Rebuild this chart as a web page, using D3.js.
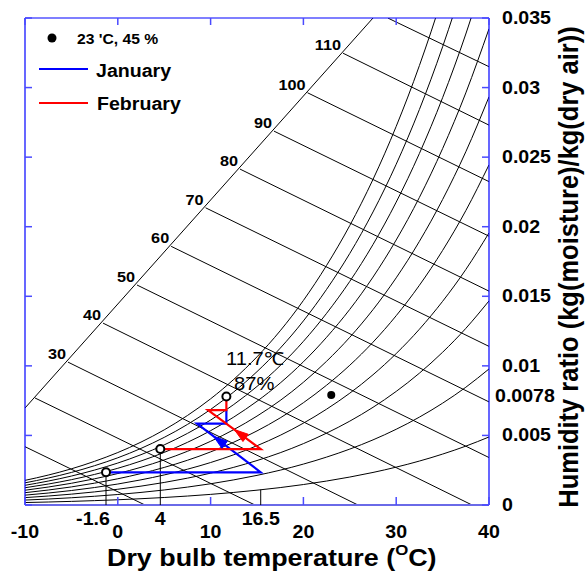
<!DOCTYPE html>
<html>
<head>
<meta charset="utf-8">
<script src="https://cdn.jsdelivr.net/npm/d3@7"></script>
<style>
  body { margin: 0; background: #fff; }
  text { font-family: "Liberation Sans", Arial, Helvetica, sans-serif; }
</style>
</head>
<body>
<svg id="chart" width="585" height="574"></svg>
<script>
// saturation humidity ratio (kg/kg)
const satT = [-10, -7.5, -5, -2.5, 0, 2.5, 5, 7.5, 10, 12.5, 15, 17.5, 20, 22.5, 25, 27.5, 30, 32.5, 35, 37.5, 40];
const satW = [0.00177, 0.00215, 0.00260, 0.00314, 0.00377, 0.00452, 0.00540, 0.00643, 0.00763, 0.00903, 0.01065,
  0.01252, 0.01470, 0.01722, 0.02009, 0.02340, 0.02721, 0.03158, 0.03659, 0.04231, 0.04889];
const rhLevels = [10, 20, 30, 40, 50, 60, 70, 80, 90, 100];

// enthalpy lines: start on the scale line (or left edge), end on bottom / right edge
const enthalpyValues = [10, 20, 30, 40, 50, 60, 70, 80, 90, 100, 110, 120];
const enthalpyStartT = [-10, -8.92, -5.37, -1.59, 2.07, 5.75, 9.46, 13.17, 16.83, 20.44, 24.27, 29.12];
const enthalpyStartW = [0.00419, 0.00769, 0.01027, 0.01307, 0.01581, 0.01859, 0.02136, 0.02414, 0.02687, 0.02963, 0.03247, 0.03499];
const enthalpyEndT = [2.93, 14.78, 25.88, 38.17, 40, 40, 40, 40, 40, 40, 40, 40];
const enthalpyEndW = [0, 0, 0, 0, 0.00341, 0.00741, 0.01140, 0.01537, 0.01932, 0.02324, 0.02730, 0.0315];
const enthalpyLabelled = [30, 40, 50, 60, 70, 80, 90, 100, 110];
const scaleLineT = [-10, 27.5];
const scaleLineW = [0.00697, 0.035];

// process paths
const janT = [-1.27, 15.4, 8.53, 11.7, 11.7];
const janW = [0.00235, 0.00235, 0.00585, 0.00585, 0.00682];
const febT = [4.58, 15.4, 9.72, 11.7, 11.7];
const febW = [0.00402, 0.00402, 0.00682, 0.00682, 0.0078];
const stateT = [-1.27, 4.58, 11.7];
const stateW = [0.00235, 0.00402, 0.0078];
const roomPoint = [23, 0.0079];

const xTicks = [-10, 0, 10, 20, 30, 40];
const yTicks = [0, 0.005, 0.01, 0.015, 0.02, 0.025, 0.03, 0.035];

const svg = d3.select("#chart");
const x = d3.scaleLinear().domain([-10, 40]).range([25, 489]);
const y = d3.scaleLinear().domain([0, 0.035]).range([505, 18]);
const SX = 1.12; // the original text is slightly stretched sideways

function label(parent, px, py, str, size, anchor, weight) {
  return parent.append("text")
    .attr("transform", `translate(${px},${py}) scale(${SX},1)`)
    .attr("text-anchor", anchor || "start")
    .attr("font-size", size)
    .attr("font-weight", weight || "bold")
    .attr("fill", "#000")
    .text(str);
}

svg.append("clipPath").attr("id", "plotClip")
  .append("rect").attr("x", x(-10)).attr("y", y(0.035))
  .attr("width", x(40) - x(-10)).attr("height", y(0) - y(0.035));

const plot = svg.append("g").attr("clip-path", "url(#plotClip)");
const straight = d3.line().x(d => x(d[0])).y(d => y(d[1]));
const smooth = d3.line().x(d => x(d[0])).y(d => y(d[1])).curve(d3.curveMonotoneX);

// relative humidity curves
rhLevels.forEach(rh => {
  plot.append("path")
    .datum(satT.map((t, i) => [t, satW[i] * rh / 100]))
    .attr("d", smooth)
    .attr("fill", "none").attr("stroke", "#000").attr("stroke-width", 1);
});

// enthalpy scale line and enthalpy lines
plot.append("path")
  .datum(scaleLineT.map((t, i) => [t, scaleLineW[i]]))
  .attr("d", straight)
  .attr("fill", "none").attr("stroke", "#000").attr("stroke-width", 1);

enthalpyValues.forEach((h, i) => {
  plot.append("path")
    .datum([[enthalpyStartT[i], enthalpyStartW[i]], [enthalpyEndT[i], enthalpyEndW[i]]])
    .attr("d", straight)
    .attr("fill", "none").attr("stroke", "#000").attr("stroke-width", 1);
});

enthalpyLabelled.forEach(h => {
  const i = enthalpyValues.indexOf(h);
  label(svg, x(enthalpyStartT[i]) - 2, y(enthalpyStartW[i]) - 3, h, 14.5, "end");
});

// frame and ticks
const frame = svg.append("g");
frame.append("line").attr("x1", x(-10)).attr("x2", x(40)).attr("y1", y(0.035)).attr("y2", y(0.035))
  .attr("stroke", "#0000ff").attr("stroke-width", 1.2);
frame.append("line").attr("x1", x(-10)).attr("x2", x(-10)).attr("y1", y(0)).attr("y2", y(0.035))
  .attr("stroke", "#0000ff").attr("stroke-width", 1.2);
frame.append("line").attr("x1", x(40)).attr("x2", x(40)).attr("y1", y(0)).attr("y2", y(0.035))
  .attr("stroke", "#0000ff").attr("stroke-width", 1.2);
frame.append("line").attr("x1", x(-10)).attr("x2", x(40)).attr("y1", y(0)).attr("y2", y(0))
  .attr("stroke", "#6a6ae8").attr("stroke-width", 2);

xTicks.forEach(t => {
  frame.append("line").attr("x1", x(t)).attr("x2", x(t)).attr("y1", y(0)).attr("y2", y(0) - 8)
    .attr("stroke", "#4a4aff").attr("stroke-width", 1.5);
  frame.append("line").attr("x1", x(t)).attr("x2", x(t)).attr("y1", y(0.035)).attr("y2", y(0.035) + 7)
    .attr("stroke", "#4a4aff").attr("stroke-width", 1.5);
  label(svg, x(t), 538, t, 17.5, "middle");
});

yTicks.forEach(w => {
  frame.append("line").attr("x1", x(-10)).attr("x2", x(-10) + 7).attr("y1", y(w)).attr("y2", y(w))
    .attr("stroke", "#4a4aff").attr("stroke-width", 1.5);
  frame.append("line").attr("x1", x(40)).attr("x2", x(40) - 7).attr("y1", y(w)).attr("y2", y(w))
    .attr("stroke", "#4a4aff").attr("stroke-width", 1.5);
  label(svg, 502, y(w) + 6, w, 17.5, "start");
});
label(svg, 495, y(0.0078) + 6, "0.0078", 17.5, "start");

// special temperature labels
label(svg, 93, 525, "-1.6", 17.5, "middle");
label(svg, x(stateT[1]), 525, "4", 17.5, "middle");
label(svg, x(15.4), 525, "16.5", 17.5, "middle");

// axis titles
const xt = svg.append("text")
  .attr("transform", `translate(107,566) scale(${SX},1)`)
  .attr("font-size", 24).attr("font-weight", "bold");
xt.append("tspan").text("Dry bulb temperature (");
xt.append("tspan").attr("font-size", 15).attr("dy", -11).text("O");
xt.append("tspan").attr("dy", 11).text("C)");

svg.append("text")
  .attr("transform", `translate(578,267) rotate(-90) scale(1,${SX})`)
  .attr("text-anchor", "middle")
  .attr("font-size", 25.5).attr("font-weight", "bold")
  .text("Humidity ratio (kg(moisture)/kg(dry air))");

// drop lines
const marks = svg.append("g");
[0, 1].forEach(i => {
  marks.append("line").attr("x1", x(stateT[i])).attr("x2", x(stateT[i]))
    .attr("y1", y(stateW[i])).attr("y2", y(0))
    .attr("stroke", "#000").attr("stroke-width", 1);
});
marks.append("line").attr("x1", x(15.4)).attr("x2", x(15.4))
  .attr("y1", y(0.0011)).attr("y2", y(0))
  .attr("stroke", "#000").attr("stroke-width", 1);

// process paths with arrows
function arrowOnSegment(p0, p1, frac, color) {
  const a = [x(p0[0]), y(p0[1])], b = [x(p1[0]), y(p1[1])];
  const dx = b[0] - a[0], dy = b[1] - a[1];
  const len = Math.hypot(dx, dy), ux = dx / len, uy = dy / len;
  const tip = [a[0] + dx * frac, a[1] + dy * frac];
  const base = [tip[0] - ux * 14, tip[1] - uy * 14];
  const w = 4.5;
  marks.append("path")
    .attr("d", `M${tip[0]},${tip[1]}L${base[0] - uy * w},${base[1] + ux * w}L${base[0] + uy * w},${base[1] - ux * w}Z`)
    .attr("fill", color).attr("stroke", color).attr("stroke-width", 1);
}

const janPts = janT.map((t, i) => [t, janW[i]]);
const febPts = febT.map((t, i) => [t, febW[i]]);
marks.append("path").datum(janPts).attr("d", straight)
  .attr("fill", "none").attr("stroke", "#0000ff").attr("stroke-width", 2.2);
marks.append("path").datum(febPts).attr("d", straight)
  .attr("fill", "none").attr("stroke", "#ff0000").attr("stroke-width", 2.2);
arrowOnSegment(janPts[1], janPts[2], 0.74, "#0000ff");
arrowOnSegment(febPts[1], febPts[2], 0.5, "#ff0000");

stateT.forEach((t, i) => {
  marks.append("circle").attr("cx", x(t)).attr("cy", y(stateW[i])).attr("r", 4)
    .attr("fill", "#fff").attr("stroke", "#000").attr("stroke-width", 2);
});
marks.append("circle").attr("cx", x(roomPoint[0])).attr("cy", y(roomPoint[1])).attr("r", 4)
  .attr("fill", "#000");

// state annotation
label(svg, 226, 365, "11.7\u2103", 18, "start", "normal");
label(svg, 234, 390, "87%", 18, "start", "normal");

// legend
const legend = svg.append("g");
legend.append("circle").attr("cx", 52).attr("cy", 38).attr("r", 4.5).attr("fill", "#000");
label(legend, 77, 44, "23 'C, 45 %", 14, "start");
legend.append("line").attr("x1", 39).attr("x2", 88).attr("y1", 69).attr("y2", 69)
  .attr("stroke", "#0000ff").attr("stroke-width", 2.2);
label(legend, 96, 76.5, "January", 17.5, "start");
legend.append("line").attr("x1", 39).attr("x2", 88).attr("y1", 103).attr("y2", 103)
  .attr("stroke", "#ff0000").attr("stroke-width", 2.2);
label(legend, 97, 110, "February", 17.5, "start");
</script>
</body>
</html>
